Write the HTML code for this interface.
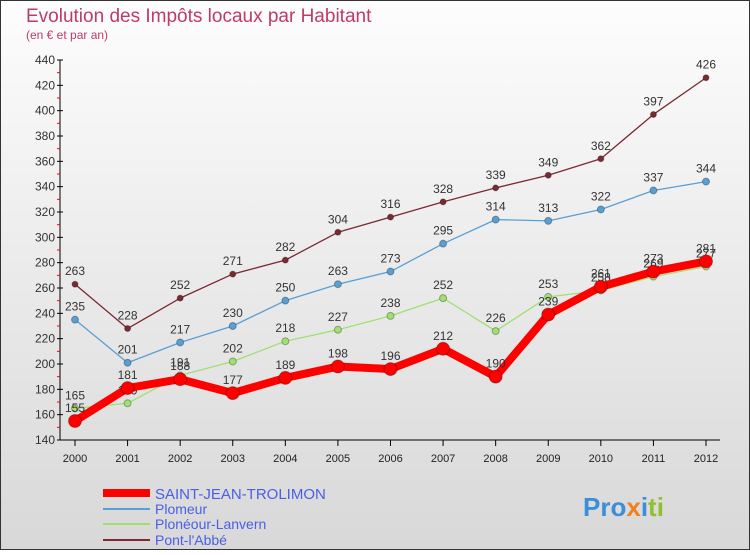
<!DOCTYPE html>
<html><head><meta charset="utf-8"><style>
body{margin:0;width:750px;height:550px;overflow:hidden;font-family:"Liberation Sans",sans-serif}
svg text{font-family:"Liberation Sans",sans-serif}
</style></head><body>
<svg width="750" height="550">
<defs><linearGradient id="bg" x1="0" y1="0" x2="0" y2="1"><stop offset="0" stop-color="#fdfdfd"/><stop offset="1" stop-color="#d8d8d8"/></linearGradient></defs>
<rect x="0.5" y="0.5" width="749" height="549" fill="url(#bg)" stroke="#333"/>
<text x="26" y="22" font-size="19" fill="#c0396b">Evolution des Impôts locaux par Habitant</text>
<text x="26" y="39" font-size="12" fill="#c0396b">(en € et par an)</text>
<g id="axes"></g>
<g id="series"></g>
<g>
<line x1="103" y1="493" x2="150" y2="493" stroke="#f00" stroke-width="8"/>
<text x="155" y="499" font-size="15" fill="#4a5ee8">SAINT-JEAN-TROLIMON</text>
<line x1="103" y1="509" x2="150" y2="509" stroke="#5a9fd4" stroke-width="2"/>
<text x="155" y="514" font-size="14" fill="#4a5ee8">Plomeur</text>
<line x1="103" y1="524" x2="150" y2="524" stroke="#9fe070" stroke-width="2"/>
<text x="155" y="529" font-size="14" fill="#4a5ee8">Plonéour-Lanvern</text>
<line x1="103" y1="540" x2="150" y2="540" stroke="#7a2a30" stroke-width="2"/>
<text x="155" y="545" font-size="14" fill="#4a5ee8">Pont-l'Abbé</text>
</g>
<text x="583" y="516" font-size="26" font-weight="bold"><tspan fill="#3a8fd8">Pro</tspan><tspan fill="#f08020">x</tspan><tspan fill="#3a8fd8">i</tspan><tspan fill="#90c030">ti</tspan></text>
</svg>
<script>
const years=[2000,2001,2002,2003,2004,2005,2006,2007,2008,2009,2010,2011,2012];
const saintJean=[155,181,188,177,189,198,196,212,190,239,261,273,281];
const plomeur=[235,201,217,230,250,263,273,295,314,313,322,337,344];
const ploneour=[165,169,191,202,218,227,238,252,226,253,258,269,277];
const pontLabbe=[263,228,252,271,282,304,316,328,339,349,362,397,426];
const yTicks=[140,160,180,200,220,240,260,280,300,320,340,360,380,400,420,440];
const NS="http://www.w3.org/2000/svg";
const X=i=>75+i*(706-75)/(years.length-1);
const Y=v=>440-(v-140)*(380/300);
function mk(t,a,p){const e=document.createElementNS(NS,t);for(const k in a)e.setAttribute(k,a[k]);p.appendChild(e);return e;}
const ax=document.getElementById('axes');
const yl=mk('line',{x1:60,y1:Y(440),x2:60,y2:440,stroke:'#000'},ax);


const xl=mk('line',{x1:60,y1:440,x2:720,y2:440,stroke:'#000'},ax);


yTicks.forEach(v=>{
 mk('line',{x1:57,y1:Y(v),x2:63,y2:Y(v),stroke:'#000'},ax);
 if(v<440)mk('line',{x1:57,y1:Y(v+10),x2:60,y2:Y(v+10),stroke:'#f00'},ax);
 const t=mk('text',{x:55,y:Y(v)+4,'font-size':12,'text-anchor':'end',fill:'#333'},ax);t.textContent=v;
 
 
});
years.forEach((y,i)=>{
 mk('line',{x1:X(i),y1:440,x2:X(i),y2:446,stroke:'#000'},ax);
 const t=mk('text',{x:X(i),y:462,'font-size':11,'text-anchor':'middle',fill:'#222'},ax);t.textContent=y;
 
 
});
const sg=document.getElementById('series');
function series(data,col,w,r,name){
 const g=mk('g',{},sg);
 
 
 mk('polyline',{points:data.map((v,i)=>X(i)+','+Y(v)).join(' '),fill:'none',stroke:col,'stroke-width':w,'stroke-linejoin':'round'},g);
 data.forEach((v,i)=>{
  const c=mk('circle',{cx:X(i),cy:Y(v),r:r,fill:col,stroke:'rgba(0,0,0,0.3)'},g);
  
  
  const t=mk('text',{x:X(i),y:Y(v)-9,'font-size':12,'text-anchor':'middle',fill:'#333'},g);t.textContent=v;
  
  
 });
}
series(pontLabbe,'#7a2a30',1.3,3,'series-pont-labbe');
series(plomeur,'#5a9fd4',1.3,3.5,'series-plomeur');
series(ploneour,'#9fe070',1.3,3.5,'series-ploneour');
series(saintJean,'#f00',8,6.5,'series-saint-jean');
</script>
</body></html>
